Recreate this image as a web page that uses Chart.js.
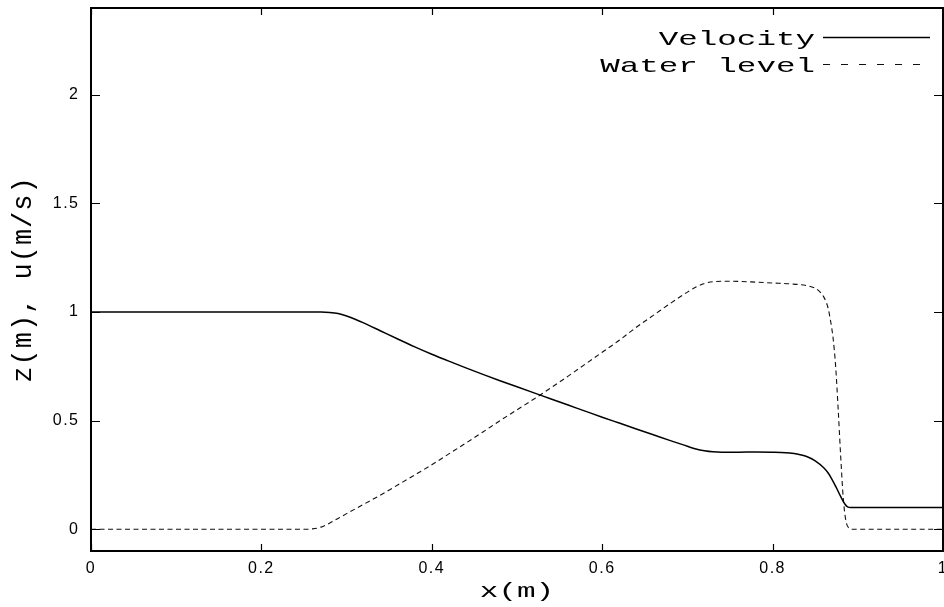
<!DOCTYPE html>
<html>
<head>
<meta charset="utf-8">
<script src="https://cdn.jsdelivr.net/npm/chart.js@4/dist/chart.umd.min.js"></script>
<style>
  html, body { margin: 0; padding: 0; background: #fff; }
  canvas { display: block; }
</style>
</head>
<body>
<canvas id="c" width="944" height="607"></canvas>
<script>
// ---- data ----
const xVel = [0, 0.1, 0.2, 0.26, 0.27, 0.28, 0.29, 0.30, 0.31, 0.32, 0.34, 0.36, 0.38, 0.40, 0.42, 0.44, 0.46, 0.48, 0.50, 0.52, 0.54, 0.56, 0.58, 0.60, 0.62, 0.64, 0.66, 0.68, 0.70, 0.71, 0.72, 0.73, 0.74, 0.76, 0.78, 0.80, 0.81, 0.82, 0.83, 0.84, 0.85, 0.86, 0.865, 0.87, 0.875, 0.88, 0.885, 0.888, 0.892, 0.90, 0.95, 1.0];
const velocity = [1, 1, 1, 1, 1, 0.998, 0.993, 0.982, 0.967, 0.95, 0.913, 0.876, 0.84, 0.806, 0.774, 0.743, 0.713, 0.684, 0.656, 0.628, 0.6, 0.572, 0.544, 0.516, 0.489, 0.462, 0.435, 0.408, 0.382, 0.37, 0.362, 0.357, 0.355, 0.355, 0.356, 0.355, 0.354, 0.351, 0.345, 0.335, 0.315, 0.283, 0.26, 0.228, 0.19, 0.15, 0.115, 0.103, 0.1, 0.1, 0.1, 0.1];

const xLev = [0, 0.1, 0.2, 0.25, 0.26, 0.27, 0.28, 0.29, 0.30, 0.32, 0.34, 0.36, 0.38, 0.40, 0.42, 0.44, 0.46, 0.48, 0.50, 0.52, 0.54, 0.56, 0.58, 0.60, 0.62, 0.64, 0.66, 0.68, 0.70, 0.71, 0.72, 0.73, 0.75, 0.78, 0.80, 0.82, 0.84, 0.85, 0.855, 0.86, 0.865, 0.868, 0.871, 0.874, 0.877, 0.880, 0.883, 0.886, 0.89, 0.895, 0.95, 1.0];
const level = [0, 0, 0, 0, 0.002, 0.01, 0.028, 0.05, 0.072, 0.115, 0.158, 0.204, 0.25, 0.297, 0.347, 0.397, 0.448, 0.5, 0.55, 0.6, 0.652, 0.705, 0.76, 0.815, 0.87, 0.93, 0.985, 1.04, 1.092, 1.115, 1.132, 1.14, 1.142, 1.138, 1.134, 1.13, 1.122, 1.11, 1.095, 1.07, 1.02, 0.96, 0.88, 0.75, 0.55, 0.33, 0.14, 0.04, 0.005, 0, 0, 0];

const xTicks = [0, 0.2, 0.4, 0.6, 0.8, 1];
const yTicks = [0, 0.5, 1, 1.5, 2];
const seriesLabels = ['Velocity', 'Water level'];
const xTitle = 'x(m)';
const yTitle = 'z(m), u(m/s)';

// ---- styling helpers ----
const LABEL_SPACING = '1.5px';
const STRETCH = 1.55; // gnuplot-like wide monospace text

const stylePlugin = {
  id: 'textStyle',
  beforeDraw(chart) {
    for (const id of Object.keys(chart.scales)) {
      const sc = chart.scales[id];
      if (sc._spPatched) continue;
      const proto = Object.getPrototypeOf(sc);
      if (id === 'x') {
        sc.drawTitle = function () {
          const c = this.ctx, cx = (this.left + this.right) / 2;
          c.save();
          c.translate(cx, 0); c.scale(STRETCH, 1); c.translate(-cx, 0);
          proto.drawTitle.apply(this, arguments);
          c.restore();
        };
      } else {
        sc.drawTitle = function () {
          const c = this.ctx; c.save(); c.letterSpacing = '1px';
          proto.drawTitle.apply(this, arguments); c.restore();
        };
      }
      sc.drawLabels = function () {
        const c = this.ctx; c.save(); c.letterSpacing = LABEL_SPACING;
        proto.drawLabels.apply(this, arguments); c.restore();
      };
      sc._spPatched = true;
    }
  }
};

const framePlugin = {
  id: 'frame',
  afterDraw(chart) {
    const ctx = chart.ctx;
    const a = chart.chartArea;
    const xs = chart.scales.x, ys = chart.scales.y;
    ctx.save();
    ctx.strokeStyle = '#000';
    ctx.lineWidth = 1.2;
    ctx.beginPath();
    for (const v of xTicks) {
      const p = Math.round(xs.getPixelForValue(v)) + 0.5;
      ctx.moveTo(p, a.bottom); ctx.lineTo(p, a.bottom - 7);
      ctx.moveTo(p, a.top); ctx.lineTo(p, a.top + 7);
    }
    for (const v of yTicks) {
      const p = Math.round(ys.getPixelForValue(v)) + 0.5;
      ctx.moveTo(a.left, p); ctx.lineTo(a.left + 9, p);
      ctx.moveTo(a.right, p); ctx.lineTo(a.right - 9, p);
    }
    ctx.stroke();
    ctx.lineWidth = 2;
    ctx.strokeRect(a.left, a.top, a.right - a.left, a.bottom - a.top);

    // legend: text right-aligned, sample line on the right
    const rows = [{ base: 45, line: 37.5 }, { base: 72, line: 64.5 }];
    chart.data.datasets.forEach((ds, i) => {
      const r = rows[i];
      ctx.save();
      ctx.font = '21px "Liberation Mono", monospace';
      ctx.textAlign = 'right';
      ctx.textBaseline = 'alphabetic';
      ctx.fillStyle = '#000';
      ctx.translate(815, r.base);
      ctx.scale(STRETCH, 1);
      ctx.fillText(ds.label, 0, 0);
      ctx.restore();
      ctx.save();
      ctx.lineWidth = ds.borderWidth;
      ctx.strokeStyle = ds.borderColor;
      ctx.setLineDash(i === 1 ? [7, 11] : []);
      ctx.beginPath();
      ctx.moveTo(823, r.line); ctx.lineTo(930, r.line);
      ctx.stroke();
      ctx.restore();
    });
    ctx.restore();
  }
};

const toPts = (xs, ys) => xs.map((x, i) => ({ x: x, y: ys[i] }));

new Chart(document.getElementById('c'), {
  type: 'line',
  data: {
    datasets: [
      {
        label: seriesLabels[0],
        data: toPts(xVel, velocity),
        borderColor: '#000',
        borderWidth: 1.5,
        pointRadius: 0,
        cubicInterpolationMode: 'monotone',
        fill: false
      },
      {
        label: seriesLabels[1],
        data: toPts(xLev, level),
        borderColor: '#111',
        borderWidth: 1.1,
        borderDash: [5, 3.5],
        pointRadius: 0,
        cubicInterpolationMode: 'monotone',
        fill: false
      }
    ]
  },
  options: {
    responsive: false,
    animation: false,
    events: [],
    layout: { padding: { top: 8, right: 1, bottom: 0, left: 0 } },
    plugins: { legend: { display: false }, tooltip: { enabled: false } },
    scales: {
      x: {
        type: 'linear',
        min: 0, max: 1,
        afterBuildTicks: (s) => { s.ticks = xTicks.map(v => ({ value: v })); },
        afterFit: (s) => { s.height = 56; s.paddingLeft = 0; s.paddingRight = 0; },
        grid: { display: false, drawTicks: false },
        border: { display: false },
        ticks: {
          padding: 8,
          color: '#000',
          maxRotation: 0,
          autoSkip: false,
          callback: (v) => String(v),
          font: { family: '"Liberation Sans", Arial, sans-serif', size: 16 }
        },
        title: {
          display: true,
          text: xTitle,
          color: '#000',
          padding: { top: 0, bottom: 3 },
          font: { family: '"Liberation Mono", monospace', size: 20 }
        }
      },
      y: {
        type: 'linear',
        min: -0.1, max: 2.4,
        afterBuildTicks: (s) => { s.ticks = yTicks.map(v => ({ value: v })); },
        afterFit: (s) => { s.width = 91; s.paddingTop = 0; s.paddingBottom = 0; },
        grid: { display: false, drawTicks: false },
        border: { display: false },
        ticks: {
          padding: 11.5,
          color: '#000',
          autoSkip: false,
          callback: (v) => String(v),
          font: { family: '"Liberation Sans", Arial, sans-serif', size: 16 }
        },
        title: {
          display: true,
          text: yTitle,
          color: '#000',
          padding: { top: 8, bottom: 0 },
          font: { family: '"Liberation Mono", monospace', size: 27 }
        }
      }
    }
  },
  plugins: [stylePlugin, framePlugin]
});
</script>
</body>
</html>
